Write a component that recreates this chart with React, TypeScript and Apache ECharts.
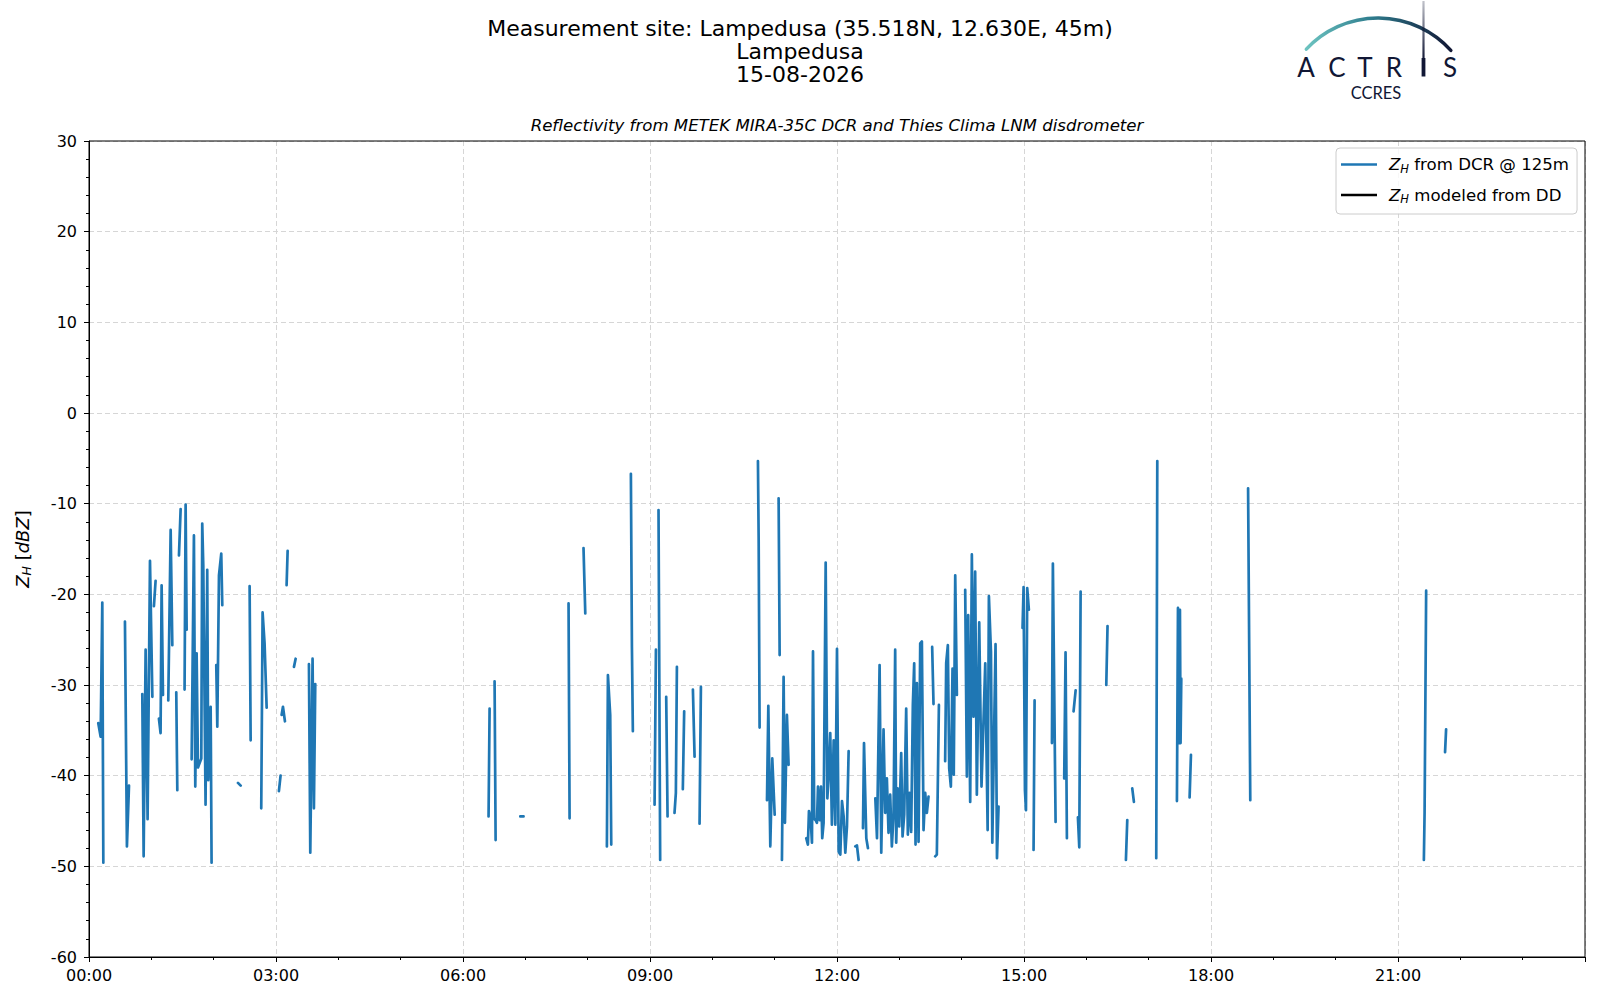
import React, { useEffect, useRef } from 'react';
import * as echarts from 'echarts';

// ---- texts ----
const TITLE_TEXT = 'Measurement site: Lampedusa (35.518N, 12.630E, 45m)\nLampedusa\n15-08-2026';
const SUBTITLE = 'Reflectivity from METEK MIRA-35C DCR and Thies Clima LNM disdrometer';
const LOGO_LETTERS = ['A', 'C', 'T', 'R', 'S'];
const LOGO_SUB = 'CCRES';

// ---- axes ----
const X_MIN = 0; // minutes after midnight
const X_MAX = 1440;
const X_STEP = 180;
const Y_MIN = -60;
const Y_MAX = 30;
const Y_STEP = 10;

// ---- Z_H from DCR @ 125 m : [minute of day, dBZ], one inner list per continuous stretch ----
const dcrNight = [
  [[8.9, -34.2], [11.2, -35.7], [12.8, -20.9], [13.8, -49.6]],
  [[34.6, -23.0], [36.5, -47.8], [38.5, -41.1]],
  [[51.3, -31.0], [52.6, -48.9], [54.5, -26.1], [56.4, -44.8], [58.7, -16.3], [61.0, -31.3]],
  [[62.5, -21.3], [64.1, -18.5]],
  [[67.3, -33.7], [68.9, -35.3], [69.9, -19.0], [71.2, -31.1]],
  [[76.3, -31.7], [78.6, -12.9], [80.2, -25.6]],
  [[84.0, -30.8], [85.0, -41.6]],
  [[86.6, -15.7], [88.2, -10.6]],
  [[92.0, -30.5], [93.0, -10.1], [94.0, -23.9]],
  [[98.8, -38.2], [101.0, -13.5], [102.3, -41.2], [103.6, -26.5], [104.9, -39.1], [108.1, -38.1], [109.0, -12.2], [110.0, -16.8], [112.2, -43.2], [113.8, -17.3], [114.8, -40.5], [117.1, -32.4], [118.0, -49.6]],
  [[122.5, -27.8], [123.5, -34.6], [125.1, -17.9], [127.3, -15.5], [128.3, -21.2]],
  [[143.4, -40.8], [146.0, -41.1]],
  [[154.6, -19.1], [155.6, -36.1]],
  [[165.8, -43.6], [167.1, -22.0], [169.0, -25.4], [171.0, -32.5]],
  [[182.8, -41.7], [184.4, -40.0]],
  [[185.4, -33.3], [186.7, -32.4], [188.6, -34.0]],
  [[190.2, -19.0], [191.2, -15.2]],
  [[197.3, -28.0], [198.9, -27.1]],
  [[211.7, -27.7], [213.0, -48.5], [215.2, -27.1], [216.5, -43.6], [217.8, -29.9]],
];

const dcrMorning = [
  [[384.6, -44.5], [385.6, -32.6]],
  [[390.4, -29.6], [391.4, -47.1]],
  [[415.1, -44.5], [418.3, -44.5]],
  [[461.6, -21.0], [462.6, -44.7]],
  [[476.0, -14.9], [477.7, -22.1]],
  [[498.5, -47.8], [499.5, -28.9], [501.7, -33.3], [502.7, -47.6]],
  [[521.6, -6.7], [522.6, -25.8], [523.5, -35.1]],
  [[544.4, -43.2], [545.7, -26.1]],
  [[548.2, -10.7], [549.8, -49.3]],
  [[555.6, -31.3], [556.9, -44.5]],
  [[563.6, -44.1], [564.9, -41.9], [565.9, -28.0]],
  [[571.6, -41.5], [572.9, -32.9]],
  [[581.3, -30.5], [582.9, -37.9]],
  [[587.7, -45.3], [589.0, -30.2]],
];

const dcrMidday = [
  [[643.9, -5.3], [644.6, -14.0], [645.5, -34.7]],
  [[652.6, -42.7], [653.9, -32.3], [655.8, -47.8], [657.7, -38.1], [660.0, -44.3]],
  [[663.8, -9.4], [664.8, -26.7]],
  [[667.0, -49.3], [668.6, -29.1], [669.9, -45.2], [671.8, -33.3], [673.4, -38.8]],
  [[690.4, -46.9], [692.0, -47.6], [693.0, -43.9], [694.6, -44.7], [695.9, -47.4], [696.9, -26.3], [698.1, -44.8], [699.4, -44.9], [700.7, -45.2], [701.7, -41.2], [703.3, -44.9], [704.6, -41.2], [705.8, -46.9], [707.1, -45.2], [709.1, -16.5], [710.7, -42.5], [711.9, -40.1], [713.5, -35.3], [715.1, -45.4], [716.8, -36.1], [718.4, -45.4], [720.0, -26.0], [721.6, -48.4], [723.2, -48.7], [724.8, -42.8], [726.4, -44.5], [728.0, -48.5], [729.6, -45.6], [731.2, -37.3]],
  [[737.6, -47.8], [739.2, -47.7], [740.8, -49.3]],
  [[745.0, -45.8], [746.0, -36.4], [748.2, -46.9], [749.8, -48.0]],
  [[756.9, -42.5], [758.5, -46.9], [761.0, -27.8], [762.6, -48.5], [764.8, -34.9], [766.4, -44.1], [768.0, -40.3], [769.6, -46.3], [771.2, -42.1], [772.8, -47.8], [774.4, -44.5], [776.0, -26.1], [777.0, -47.4], [778.3, -41.4], [779.9, -45.6], [781.8, -37.5], [783.1, -46.7], [784.7, -44.3], [786.6, -32.6], [788.2, -46.5], [789.8, -41.9], [791.4, -46.2], [793.0, -32.2], [794.3, -27.6], [795.6, -47.6], [796.9, -29.8], [798.5, -47.3], [800.1, -25.4], [801.7, -25.2], [803.3, -46.0], [804.9, -41.9], [806.5, -44.1], [808.1, -42.3]],
  [[811.6, -25.8], [812.9, -32.1]],
  [[814.5, -48.9], [816.1, -48.7], [818.1, -32.2]],
  [[824.1, -38.4], [825.1, -27.6], [826.7, -25.6], [828.0, -39.2], [829.6, -41.2], [831.2, -28.2], [832.4, -39.9], [833.8, -17.9], [835.4, -31.1]],
  [[843.4, -19.5], [845.0, -40.1], [846.3, -22.3], [848.2, -42.9], [849.8, -15.6], [851.4, -33.5], [853.0, -17.5], [854.6, -42.1], [856.9, -23.1], [859.1, -41.2], [862.7, -27.6], [865.0, -46.0], [866.2, -20.2], [868.2, -26.3], [869.5, -47.4], [872.6, -25.5], [874.0, -49.1], [875.5, -43.4]],
];

const dcrAfternoon = [
  [[898.6, -23.7], [899.6, -19.2], [900.9, -41.6], [901.9, -43.8], [903.1, -19.3], [904.7, -21.7]],
  [[909.2, -48.2], [910.2, -31.7]],
  [[926.9, -36.4], [927.8, -16.6], [930.4, -45.1]],
  [[938.7, -40.3], [940.0, -26.4], [941.3, -46.9]],
  [[947.7, -32.9], [949.7, -30.6]],
  [[951.9, -44.6], [953.2, -47.9], [954.5, -19.7]],
  [[979.2, -30.0], [980.4, -23.5]],
  [[998.1, -49.3], [999.4, -44.9]],
  [[1004.2, -41.4], [1005.8, -42.9]],
  [[1027.3, -49.1], [1028.3, -5.3]],
  [[1047.2, -42.8], [1048.2, -21.5], [1049.1, -36.4], [1050.1, -21.7], [1050.7, -36.4], [1051.4, -29.3]],
  [[1059.4, -42.4], [1060.7, -37.7]],
  [[1115.7, -8.3], [1117.8, -42.7]],
  [[1284.9, -49.3], [1285.6, -44.0], [1287.1, -19.6]],
  [[1305.3, -37.4], [1306.3, -34.9]],
];

// Z_H modeled from the disdrometer: no values on this day
const ddModeled: number[][] = [];

const FONT = 'DejaVu Sans';

function joinStretches(groups: number[][][][]) {
  const out: any[] = [];
  groups.forEach((g) =>
    g.forEach((seg) => {
      seg.forEach((p) => out.push([p[0], p[1]]));
      out.push([seg[seg.length - 1][0], '-']);
    })
  );
  return out;
}

function fmtTime(v: number) {
  const h = Math.floor(v / 60);
  const m = Math.round(v - h * 60);
  return String(h).padStart(2, '0') + ':' + String(m).padStart(2, '0');
}

const GRID = { left: 89, right: 15, top: 141, bottom: 43 };

export default function App() {
  const ref = useRef<HTMLDivElement>(null);

  useEffect(() => {
    document.body.style.margin = '0';
    if (!ref.current) return;
    const chart = echarts.init(ref.current, undefined, { renderer: 'svg' });

    const arcGradient = new echarts.graphic.LinearGradient(0, 0, 1, 0, [
      { offset: 0, color: '#6cc3c0' },
      { offset: 0.45, color: '#2f7d8e' },
      { offset: 1, color: '#111735' },
    ]);
    const poleGradient = new echarts.graphic.LinearGradient(
      0, 0, 0, 60,
      [
        { offset: 0, color: 'rgba(17,23,53,0.25)' },
        { offset: 1, color: '#111735' },
      ],
      true
    );
    const letterX = [1306, 1337, 1365, 1394, 1450];

    const rich = {
      i: { fontStyle: 'italic', fontSize: 16.6, fontFamily: FONT, color: '#000' },
      s: { fontStyle: 'italic', fontSize: 11.5, fontFamily: FONT, color: '#000', padding: [8, 0, 0, 0] },
      t: { fontSize: 16.6, fontFamily: FONT, color: '#000' },
    };

    const plotW = 1600 - GRID.left - GRID.right;
    const plotH = 1000 - GRID.top - GRID.bottom;

    const option: any = {
      animation: false,
      backgroundColor: '#ffffff',
      title: {
        text: TITLE_TEXT,
        left: 800,
        top: 17,
        textAlign: 'center',
        padding: 0,
        textStyle: { fontSize: 22, fontWeight: 'normal', lineHeight: 23, color: '#000', fontFamily: FONT },
      },
      grid: {
        left: GRID.left,
        right: GRID.right,
        top: GRID.top,
        bottom: GRID.bottom,
        show: false,
      },
      legend: {
        orient: 'vertical',
        left: 1336,
        top: 148,
        icon: 'rect',
        itemWidth: 36,
        itemHeight: 2.6,
        itemGap: 12,
        padding: [8, 8, 9, 5],
        borderColor: '#cccccc',
        borderWidth: 1,
        borderRadius: 4,
        backgroundColor: 'rgba(255,255,255,0.8)',
        selectedMode: false,
        z: 20,
        data: ['dcr', 'dd'],
        formatter: (name: string) =>
          name === 'dcr' ? '{i|Z}{s|H}{t| from DCR @ 125m}' : '{i|Z}{s|H}{t| modeled from DD}',
        textStyle: { fontSize: 16.6, fontFamily: FONT, color: '#000', padding: [0, 0, 0, 7], rich },
      },
      xAxis: {
        type: 'value',
        min: X_MIN,
        max: X_MAX,
        interval: X_STEP,
        axisLine: { show: true, onZero: false, lineStyle: { color: '#000', width: 1 } },
        axisTick: { show: true, length: 5, lineStyle: { color: '#000', width: 1 } },
        minorTick: { show: true, splitNumber: 3, length: 3, lineStyle: { color: '#000', width: 1 } },
        axisLabel: {
          color: '#000',
          fontSize: 16,
          fontFamily: FONT,
          margin: 10,
          showMaxLabel: false,
          formatter: (v: number) => fmtTime(v),
        },
        splitLine: { show: true, lineStyle: { color: '#d6d6d6', width: 1, type: [5, 3] } },
      },
      yAxis: {
        type: 'value',
        min: Y_MIN,
        max: Y_MAX,
        interval: Y_STEP,
        name: '{i|Z}{s|H}{t| [}{i|dBZ}{t|]}',
        nameLocation: 'middle',
        nameGap: 56,
        nameRotate: 90,
        nameTextStyle: {
          fontSize: 18,
          fontFamily: FONT,
          color: '#000',
          rich: {
            i: { fontStyle: 'italic', fontSize: 18, fontFamily: FONT, color: '#000' },
            s: { fontStyle: 'italic', fontSize: 12.5, fontFamily: FONT, color: '#000', padding: [9, 0, 0, 0] },
            t: { fontSize: 18, fontFamily: FONT, color: '#000' },
          },
        },
        axisLine: { show: true, onZero: false, lineStyle: { color: '#000', width: 1 } },
        axisTick: { show: true, length: 5, lineStyle: { color: '#000', width: 1 } },
        minorTick: { show: true, splitNumber: 5, length: 3, lineStyle: { color: '#000', width: 1 } },
        axisLabel: { color: '#000', fontSize: 16, fontFamily: FONT, margin: 12 },
        splitLine: { show: true, lineStyle: { color: '#d6d6d6', width: 1, type: [5, 3] } },
      },
      series: [
        {
          name: 'dcr',
          type: 'line',
          data: joinStretches([dcrNight, dcrMorning, dcrMidday, dcrAfternoon]),
          showSymbol: false,
          symbol: 'none',
          connectNulls: false,
          color: '#1f77b4',
          itemStyle: { color: '#1f77b4' },
          lineStyle: { color: '#1f77b4', width: 2.7, join: 'round', cap: 'round' },
          z: 3,
        },
        {
          name: 'dd',
          type: 'line',
          data: ddModeled,
          showSymbol: false,
          symbol: 'none',
          color: '#000',
          itemStyle: { color: '#000' },
          lineStyle: { color: '#000', width: 2.7 },
        },
      ],
      graphic: [
        {
          type: 'rect',
          z: 10,
          silent: true,
          shape: { x: GRID.left, y: GRID.top, width: plotW, height: plotH },
          style: { fill: null, stroke: '#000', lineWidth: 1 },
        },
        {
          type: 'text',
          x: 837,
          y: 125,
          style: {
            text: SUBTITLE,
            fontSize: 16.6,
            fontStyle: 'italic',
            fontFamily: FONT,
            fill: '#000',
            textAlign: 'center',
            textVerticalAlign: 'middle',
          },
        },
        {
          type: 'arc',
          shape: { cx: 1378, cy: 116, r: 98, startAngle: (-137 * Math.PI) / 180, endAngle: (-42 * Math.PI) / 180, clockwise: true },
          style: { stroke: arcGradient, lineWidth: 3.5, fill: null, lineCap: 'round' },
        },
        {
          type: 'line',
          shape: { x1: 1423.5, y1: 1, x2: 1423.5, y2: 60 },
          style: { stroke: poleGradient, lineWidth: 2.2 },
        },
        {
          type: 'rect',
          shape: { x: 1421.6, y: 58, width: 3.8, height: 18.5 },
          style: { fill: '#111735' },
        },
        ...LOGO_LETTERS.map((ch, k) => ({
          type: 'text',
          x: letterX[k],
          y: 67,
          style: {
            text: ch,
            fontSize: 26,
            fontFamily: 'Lato',
            fill: '#111735',
            textAlign: 'center',
            textVerticalAlign: 'middle',
          },
        })),
        {
          type: 'text',
          x: 1376,
          y: 93,
          style: {
            text: LOGO_SUB,
            fontSize: 16.5,
            fontFamily: 'Lato',
            fill: '#111735',
            textAlign: 'center',
            textVerticalAlign: 'middle',
          },
        },
      ],
    };

    chart.setOption(option);
    return () => chart.dispose();
  }, []);

  return <div ref={ref} style={{ width: 1600, height: 1000 }} />;
}
